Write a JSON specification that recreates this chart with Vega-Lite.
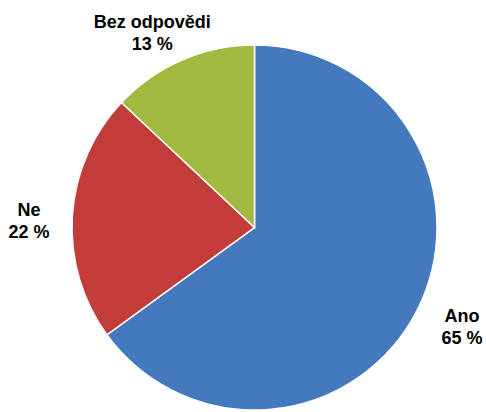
{
  "$schema": "https://vega.github.io/schema/vega-lite/v6.json",
  "width": 463,
  "height": 369,
  "autosize": {"type": "none"},
  "padding": {"left": 23, "top": 43, "right": 0, "bottom": 0},
  "background": "white",
  "view": {"stroke": null},
  "data": {
    "values": [
      {"i": 1, "cat": "Ano", "value": 65, "label": ["Ano", "65 %"]},
      {"i": 2, "cat": "Ne", "value": 22, "label": ["Ne", "22 %"]},
      {"i": 3, "cat": "Bez odpovědi", "value": 13, "label": ["Bez odpovědi", "13 %"]}
    ]
  },
  "encoding": {
    "theta": {"field": "value", "type": "quantitative", "stack": true},
    "order": {"field": "i", "type": "quantitative"}
  },
  "layer": [
    {
      "mark": {"type": "arc", "radius": 182.5, "stroke": "white", "strokeWidth": 1.5},
      "encoding": {
        "color": {
          "field": "cat",
          "type": "nominal",
          "scale": {"domain": ["Ano", "Ne", "Bez odpovědi"], "range": ["#4579BD", "#C23D3A", "#A0B93E"]},
          "legend": null
        }
      }
    },
    {
      "mark": {
        "type": "text", "radius": 225, "dx": 7, "dy": -13,
        "font": "Liberation Sans", "fontWeight": "bold", "fontSize": 18, "lineHeight": 22,
        "color": "black", "align": "center", "baseline": "middle"
      },
      "encoding": {"text": {"condition": {"test": "datum.cat === 'Ano'", "field": "label"}, "value": ""}}
    },
    {
      "mark": {
        "type": "text", "radius": 225, "dx": -1, "dy": -2,
        "font": "Liberation Sans", "fontWeight": "bold", "fontSize": 18, "lineHeight": 22,
        "color": "black", "align": "center", "baseline": "middle"
      },
      "encoding": {"text": {"condition": {"test": "datum.cat === 'Ne'", "field": "label"}, "value": ""}}
    },
    {
      "mark": {
        "type": "text", "radius": 225, "dx": -13, "dy": 2,
        "font": "Liberation Sans", "fontWeight": "bold", "fontSize": 18, "lineHeight": 22,
        "color": "black", "align": "center", "baseline": "middle"
      },
      "encoding": {"text": {"condition": {"test": "datum.cat === 'Bez odpovědi'", "field": "label"}, "value": ""}}
    }
  ]
}
